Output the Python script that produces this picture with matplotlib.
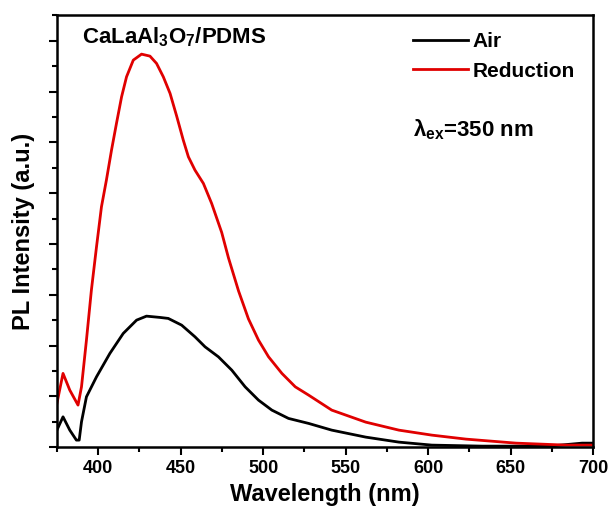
import matplotlib.pyplot as plt
from matplotlib.ticker import MultipleLocator

plt.rcParams['font.family'] = ['Liberation Sans', 'DejaVu Sans']
plt.rcParams['font.weight'] = 'bold'
plt.rcParams['mathtext.fontset'] = 'custom'
plt.rcParams['mathtext.rm'] = 'Liberation Sans:bold'
plt.rcParams['mathtext.it'] = 'Liberation Sans:bold'
plt.rcParams['mathtext.bf'] = 'Liberation Sans:bold'

# PL spectra (a.u.)
wl_air = [375, 378.7, 382.8, 386.8, 388.5, 389.9, 392.9, 399.0, 407.1, 415.2, 423.3,
          429.3, 437.5, 442.5, 450.6, 458.7, 464.8, 472.9, 481.0, 489.1, 497.2,
          505.3, 515.4, 527.6, 541.6, 562.2, 582.3, 602.3, 632.7, 673.4, 693.4, 700]
pl_air = [669, 1193, 669, 276, 276, 996, 1980, 2768, 3689, 4476, 5000,
          5157, 5106, 5067, 4803, 4343, 3949, 3555, 3031, 2374, 1850,
          1457, 1130, 933, 669, 394, 197, 79, 39, 39, 157, 157]

wl_red = [375, 378.7, 382.8, 387.8, 389.9, 392.9, 395.9, 399.0, 402.0, 405.0, 408.1,
          411.1, 414.2, 417.2, 421.3, 426.3, 431.4, 435.4, 439.5, 443.6, 447.6,
          451.6, 454.7, 458.7, 463.8, 468.8, 474.9, 479.0, 485.1, 491.1, 497.2,
          503.3, 511.4, 519.5, 527.6, 541.6, 562.2, 582.3, 602.3, 623.0, 653.3,
          683.7, 700]
pl_red = [1720, 2902, 2244, 1654, 2374, 4213, 6181, 7886, 9461, 10512, 11693,
          12744, 13791, 14579, 15236, 15472, 15394, 15106, 14579, 13925, 13031,
          12087, 11429, 10905, 10381, 9594, 8450, 7450, 6150, 5050, 4213,
          3555, 2902, 2374, 2047, 1457, 984, 669, 472, 315, 157,
          79, 79]

fig = plt.figure(figsize=(6.12, 5.11), dpi=100)
ax = fig.add_axes([0.093, 0.125, 0.876, 0.845])

ax.plot(wl_air, pl_air, color='black', lw=2, label='Air')
ax.plot(wl_red, pl_red, color='#e00000', lw=2, label='Reduction')

ax.set_xlim(375, 700)
ax.set_ylim(0, 17000)
ax.xaxis.set_major_locator(MultipleLocator(50))
ax.xaxis.set_minor_locator(MultipleLocator(25))
ax.yaxis.set_major_locator(MultipleLocator(2000))
ax.yaxis.set_minor_locator(MultipleLocator(1000))
ax.tick_params(which='major', length=6, width=1.5, labelsize=13)
ax.tick_params(which='minor', length=3.5, width=1.5)
ax.set_yticklabels([])
for s in ax.spines.values():
    s.set_linewidth(1.8)

ax.set_xlabel('Wavelength (nm)', fontsize=17, fontweight='bold', labelpad=4)
ax.set_ylabel('PL Intensity (a.u.)', fontsize=17, fontweight='bold', labelpad=6)

ax.text(0.047, 0.949, r'CaLaAl$_{3}$O$_{7}$/PDMS', transform=ax.transAxes,
        fontsize=16, fontweight='bold', va='center')
ax.text(0.664, 0.734, r'λ$_{ex}$=350 nm', transform=ax.transAxes,
        fontsize=16, fontweight='bold', va='center')

leg = ax.legend(loc='upper left', bbox_to_anchor=(0.664, 0.961), frameon=False,
                fontsize=15, handlelength=2.65, handletextpad=0.2,
                labelspacing=0.5, borderpad=0, borderaxespad=0)

fig.savefig('out.png', dpi=100)
